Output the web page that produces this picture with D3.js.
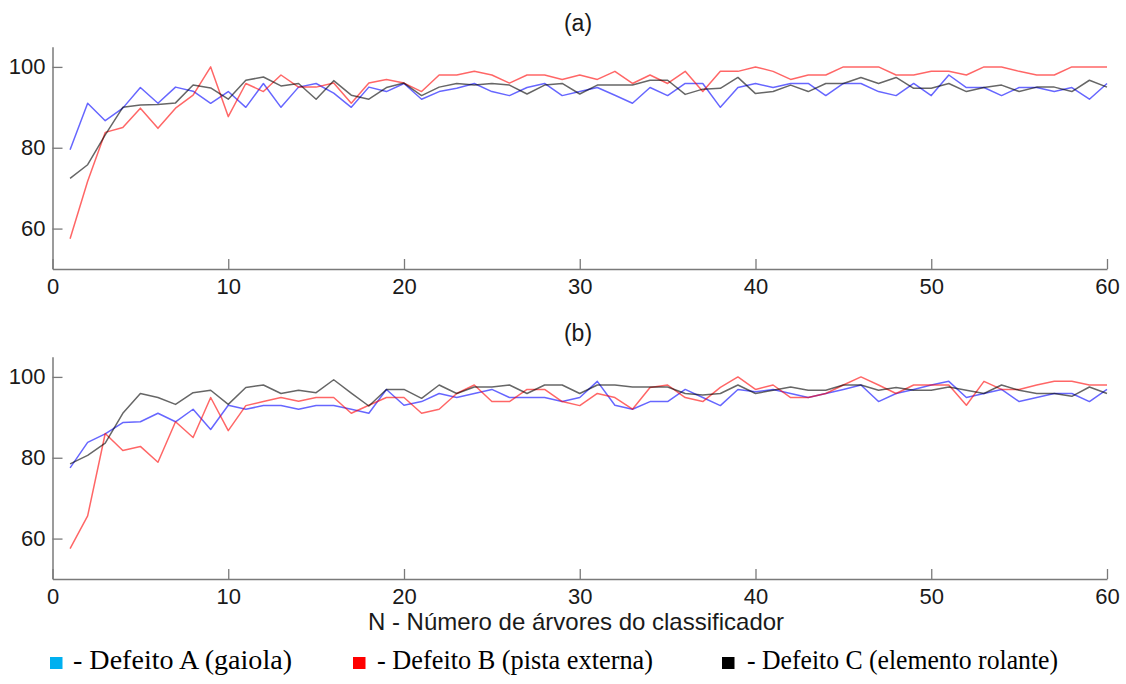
<!DOCTYPE html>
<html>
<head>
<meta charset="utf-8">
<script src="https://cdn.jsdelivr.net/npm/d3@7"></script>
<style>
  body { margin: 0; background: #ffffff; }
  svg { display: block; }
  .tick-label { font-family: "Liberation Sans", Arial, sans-serif; font-size: 22px; fill: #1a1a1a; }
  .panel-title { font-family: "Liberation Sans", Arial, sans-serif; font-size: 23px; fill: #1a1a1a; }
  .x-title { font-family: "Liberation Sans", Arial, sans-serif; font-size: 24px; fill: #1a1a1a; }
  .legend-text { font-family: "Liberation Serif", "Times New Roman", serif; font-size: 28px; fill: #000000; }
</style>
</head>
<body>
<div id="chart"></div>
<script>
var width = 1126;
var height = 684;

// N - number of trees
var trees = d3.range(1, 61);

// panel (a)
var a_defA = [79.5,91,86.7,89.8,94.9,91,95,94,91,93.9,90,95.9,90,95,95.9,93.5,90,95,93.9,95.9,
              92,93.9,94.7,95.9,93.9,92.9,94.9,95.9,92.9,93.9,94.9,93,91,94.9,92.9,95.9,95.9,90,94.9,95.9,
              94.9,95.9,95.9,92.9,95.9,95.9,93.9,92.9,95.9,92.9,98,94.9,94.9,92.9,94.9,94.9,93.9,94.9,92,95.9];
var a_defB = [57.5,71.7,83.8,85,89.8,84.8,89.8,93,100,87.7,95.9,93.9,98,95,95,96,91,96,96.9,96,
              93.9,98,98,98.9,98,96,98,98,96.9,98,96.9,98.9,95.9,98,95.9,98.9,93.9,98.9,98.9,100,
              98.9,96.9,98,98,100,100,100,98,98,98.9,98.9,98,100,100,98.9,98,98,100,100,100];
var a_defC = [72.4,75.8,83.2,90,90.6,90.7,91.1,95.5,94.8,92,96.7,97.5,95.3,95.9,92,96.6,93,92,94.9,96,
              92.9,95,95.9,95.5,95.9,95.5,93.3,95.5,95.9,93.3,95.5,95.5,95.5,96.7,96.7,93.2,94.5,94.7,97.4,93.4,
              93.9,95.5,93.9,95.9,95.9,97.4,95.9,97.4,94.7,94.7,95.9,93.9,94.9,95.5,93.9,95,95,93.9,96.7,95];

// panel (b)
var b_defA = [77.5,83.8,85.9,88.7,88.9,91,88.9,92,87,93,92,92.9,92.9,92,92.9,92.9,92,91,96.9,93,
              93.9,95.9,94.9,95.9,96.9,94.9,94.9,94.9,93.9,94.9,98.9,93,92,93.9,93.9,96.9,94.9,92.9,96.9,96.3,
              96.9,95.9,94.9,95.9,96.9,98,93.9,95.9,96.9,98,98.9,94.9,95.9,96.9,93.9,94.9,95.9,95.9,93.9,96.9];
var b_defB = [57.5,65.6,86,81.8,82.8,78.9,88.9,85,94.9,86.7,92.9,93.9,94.9,94,94.9,94.9,91,93,94.9,94.9,
              91,92,95.9,98,93.9,93.9,96.9,96.9,93.9,92.9,95.9,94.9,92,97.4,98,94.9,93.9,97.4,100,96.9,
              98,94.9,94.9,95.9,98,100,98,95.9,98,98,98,93,98.9,96.9,96.9,98,98.9,98.9,98,98];
var b_defC = [78.5,80.6,83.6,91,95.9,94.9,93.2,96.1,96.7,93.2,97.4,98,95.9,96.7,96.1,99.3,96,92.8,96.9,96.9,
              94.7,98,95.9,97.5,97.5,98,95.9,98,98,95.9,98,98,97.5,97.5,97.5,95.9,95.5,95.9,98,95.9,
              96.7,97.5,96.7,96.7,98,98,96.7,97.4,96.7,96.7,97.5,96.7,95.9,98,96.7,95.9,95.9,95.2,97.5,95.9];

var xTicks = [0, 10, 20, 30, 40, 50, 60];
var yTicks = [60, 80, 100];
var lineColors = ["#0000ff", "#ff0000", "#000000"];
var legendColors = ["#00b0f0", "#ff0000", "#000000"];
var legendLabels = ["- Defeito A (gaiola)", "- Defeito B (pista externa)", "- Defeito C (elemento rolante)"];

var svg = d3.select("#chart").append("svg")
  .attr("width", width)
  .attr("height", height);

var x = d3.scaleLinear().domain([0, 60]).range([52.5, 1107]);

function drawPanel(top, title, series) {
  var y = d3.scaleLinear().domain([50, 105]).range([top + 222.3, top]);
  var g = svg.append("g");

  // series lines
  var line = d3.line()
    .x(function(d, i) { return x(trees[i]); })
    .y(function(d) { return y(d); });

  series.forEach(function(s, k) {
    g.append("path")
      .datum(s)
      .attr("d", line)
      .attr("fill", "none")
      .attr("stroke", lineColors[k])
      .attr("stroke-opacity", 0.6)
      .attr("stroke-width", 1.5)
      .attr("stroke-linejoin", "round");
  });

  // axes, ticks pointing inward
  var xAxis = g.append("g")
    .attr("transform", "translate(0," + y(50) + ")")
    .call(d3.axisBottom(x).tickValues(xTicks).tickSizeInner(-10).tickSizeOuter(0).tickPadding(9));
  var yAxis = g.append("g")
    .attr("transform", "translate(" + x(0) + ",0)")
    .call(d3.axisLeft(y).tickValues(yTicks).tickSizeInner(-10).tickSizeOuter(0).tickPadding(7));

  [xAxis, yAxis].forEach(function(ax) {
    ax.select(".domain").attr("stroke", "#7a7a7a").attr("stroke-width", 1.5);
    ax.selectAll(".tick line").attr("stroke", "#7a7a7a").attr("stroke-width", 1.3);
    ax.selectAll(".tick text")
      .attr("class", "tick-label")
      .attr("font-family", null)
      .attr("font-size", null)
      .attr("fill", null);
  });

  svg.append("text")
    .attr("class", "panel-title")
    .attr("x", 578)
    .attr("y", top - 16)
    .attr("text-anchor", "middle")
    .text(title);

  return y;
}

drawPanel(46.7, "(a)", [a_defA, a_defB, a_defC]);
drawPanel(356.7, "(b)", [b_defA, b_defB, b_defC]);

svg.append("text")
  .attr("class", "x-title")
  .attr("x", 576)
  .attr("y", 630)
  .attr("text-anchor", "middle")
  .text("N - Número de árvores do classificador");

// legend
var legendX = [50, 353, 722];
var legendTextX = [73, 377, 747];
var legendWidth = [219, 276, 311];
var legend = svg.append("g");
legendLabels.forEach(function(lab, i) {
  legend.append("rect")
    .attr("x", legendX[i])
    .attr("y", 657)
    .attr("width", 12.5)
    .attr("height", 12)
    .attr("fill", legendColors[i]);
  legend.append("text")
    .attr("class", "legend-text")
    .attr("x", legendTextX[i])
    .attr("y", 669)
    .attr("textLength", legendWidth[i])
    .attr("lengthAdjust", "spacingAndGlyphs")
    .text(lab);
});
</script>
</body>
</html>
